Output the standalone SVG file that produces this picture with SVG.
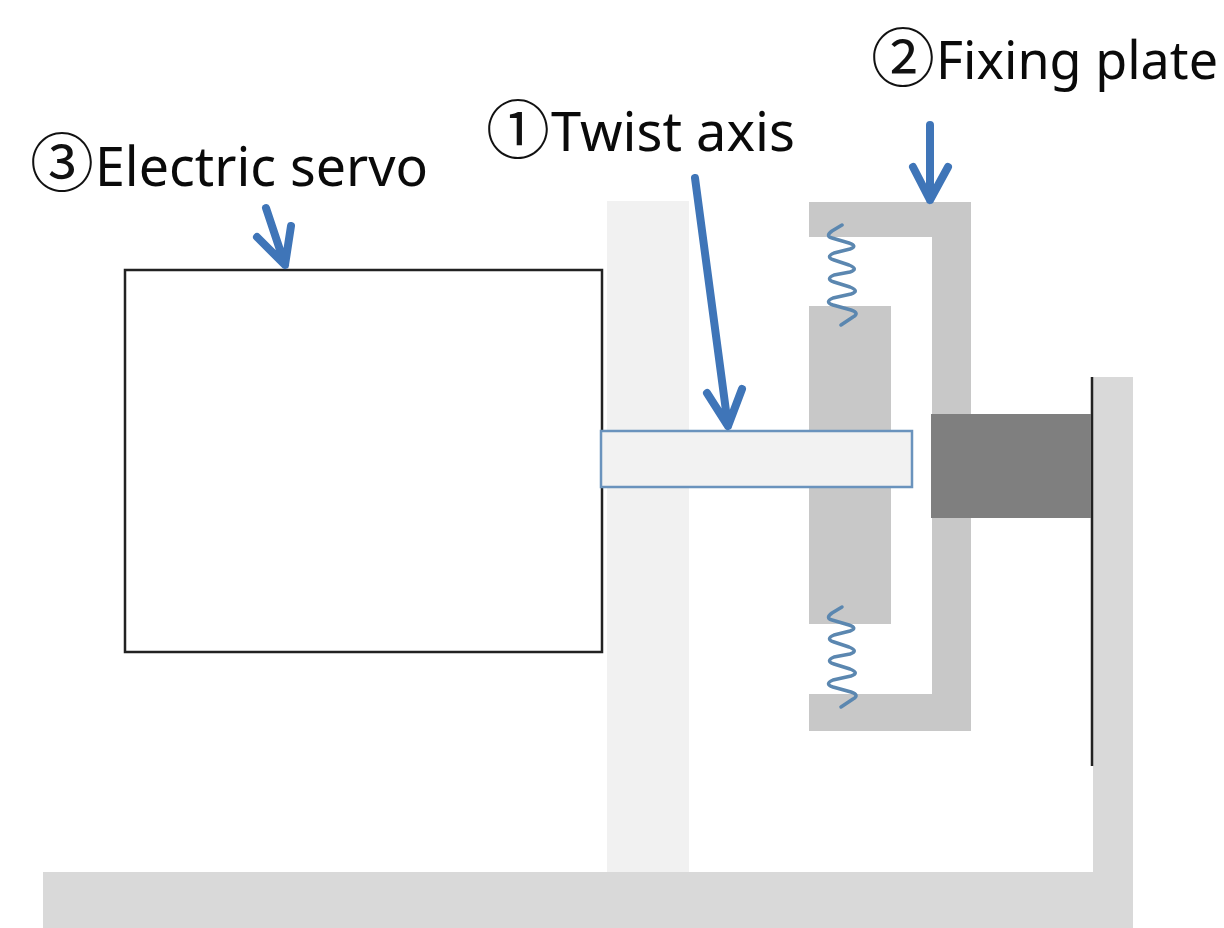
<svg xmlns="http://www.w3.org/2000/svg" width="1224" height="928" viewBox="0 0 1224 928">
<style>
.lbl{font-family:"Noto Sans","Noto Sans CJK JP",sans-serif;font-size:54px;fill:#0a0a0a}
.num{font-family:"Noto Sans CJK JP",sans-serif;font-size:64px;fill:#111}
.arrow{fill:none;stroke:#3f75b8;stroke-width:8;stroke-linecap:round;stroke-linejoin:round}
.spring{fill:none;stroke:#5b87b0;stroke-width:3.5;stroke-linecap:round;stroke-linejoin:round}
.plate{fill:#c8c8c8}
.frame{fill:#d9d9d9}
</style>
<defs>
<path id="coil" class="spring" d="M842 225L832 231Q825 236 832 238L849 243Q858 246 850 249L834 253Q825 257 834 260L849 265Q859 269 850 272L834 275Q825 279 834 282L850 287Q860 291 851 294L833 298Q824 302 833 305L851 310Q860 313 853 317L841 325"/>
</defs>
<rect width="1224" height="928" fill="#fff"/>
<g id="base-frame"><path class="frame" d="M43 872H1093V377H1133V928H43Z"/><path d="M1092 377V766" stroke="#222" stroke-width="2.5" fill="none"/></g>
<g id="support"><rect x="607" y="201" width="82" height="671" fill="#f1f1f1"/></g>
<g id="fixing-plate"><path class="plate" d="M809 202H971V731H809V694H932V237H809Z"/></g>
<g id="inner-plate"><rect class="plate" x="809" y="306" width="82" height="318"/></g>
<g id="mount"><rect x="931" y="414" width="160" height="104" fill="#7f7f7f"/></g>
<g id="electric-servo"><rect x="125" y="270" width="477" height="382" fill="#fff" stroke="#222" stroke-width="2.5"/></g>
<g id="twist-axis"><rect x="601" y="431" width="311" height="56" fill="#f2f2f2" stroke="#6a93bd" stroke-width="2.5"/></g>
<g id="springs">
<use href="#coil"/>
<use href="#coil" y="382"/>
</g>
<g id="connectors">
<path class="arrow" d="M930 125V200M913 167L930 200L948 167"/>
<path class="arrow" d="M695 178L728 426M707 393L728 426L742 389"/>
<path class="arrow" d="M266 208L285 265M257 237L285 265L291 226"/>
</g>
<g id="label-2"><text class="num" x="871" y="81">②</text><text class="lbl" x="936" y="79" style="font-size:52px" textLength="282" lengthAdjust="spacingAndGlyphs">Fixing plate</text></g>
<g id="label-1"><text class="num" x="486" y="153">①</text><text class="lbl" x="551" y="151" textLength="244" lengthAdjust="spacingAndGlyphs">Twist axis</text></g>
<g id="label-3"><text class="num" x="30" y="186">③</text><text class="lbl" x="95" y="186" textLength="333" lengthAdjust="spacingAndGlyphs">Electric servo</text></g>
</svg>
